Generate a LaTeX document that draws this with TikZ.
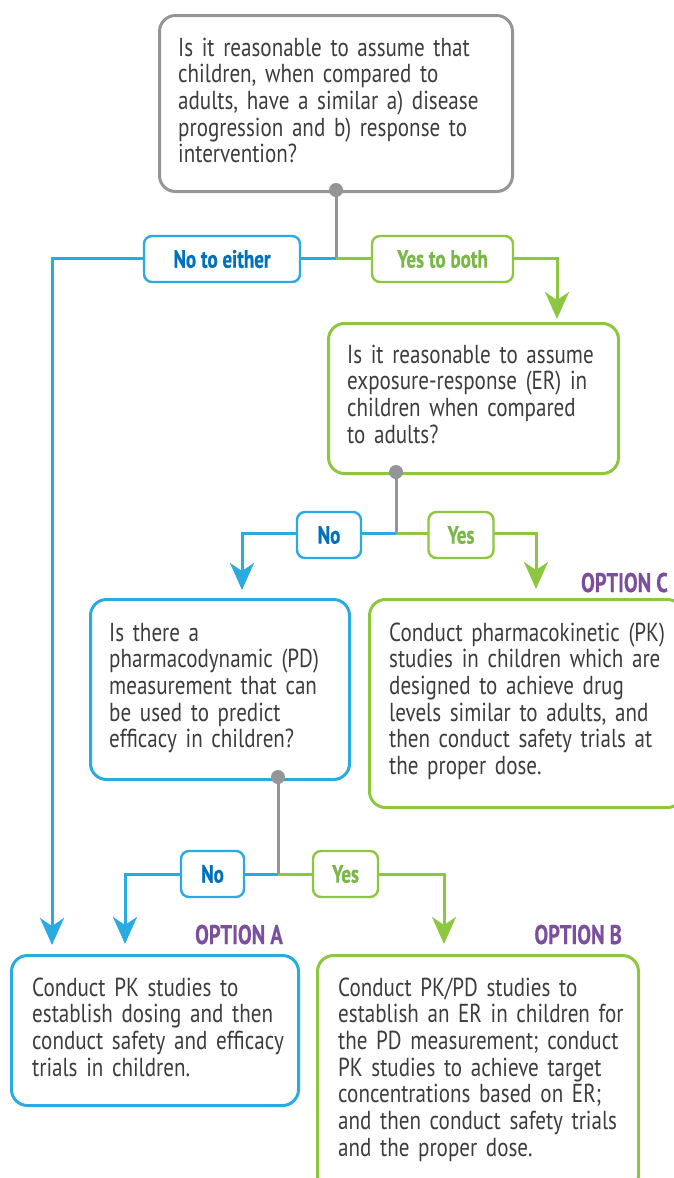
\documentclass[tikz,border=0pt]{standalone}
\usepackage{fontspec}
\setmainfont{PT Sans}[FakeStretch=0.81, BoldFeatures={FakeStretch=0.76, FakeBold=0.6}]
\usetikzlibrary{arrows.meta}
\definecolor{gr}{HTML}{939598}
\definecolor{bl}{HTML}{29ABE2}
\definecolor{bltxt}{HTML}{0072BC}
\definecolor{gn}{HTML}{8DC63F}
\definecolor{gntxt}{HTML}{7AB648}
\definecolor{pu}{HTML}{7B4F9E}
\definecolor{tx}{HTML}{3C3C3D}
\begin{document}
\begin{tikzpicture}[x=1pt,y=-1pt,
  bigbox/.style={draw=#1, line width=3pt, rounded corners=16pt, anchor=north west, inner sep=0pt},
  txt/.style={anchor=base west, inner sep=0pt, text width=320pt, align=left, text=tx,
    font=\fontsize{26}{26.7}\selectfont},
  lbl/.style={draw=#1, fill=white, line width=2.4pt, rounded corners=8pt, minimum height=46pt,
    inner sep=0pt, font=\fontsize{25}{26}\selectfont\bfseries},
  opt/.style={anchor=base east, inner sep=0pt, text=pu, font=\fontsize{27}{28}\selectfont\bfseries},
  dot/.style={circle, fill=gr, minimum size=14pt, inner sep=0pt},
  gline/.style={draw=gr, line width=3pt},
  bline/.style={draw=bl, line width=3pt},
  nline/.style={draw=gn, line width=3pt},
  barrow/.style={bline, -{Stealth[length=27pt,width=24pt,inset=8pt]}},
  narrow/.style={nline, -{Stealth[length=27pt,width=24pt,inset=8pt]}},
]
\useasboundingbox (0,0) rectangle (673,1178);

% boxes
\node[bigbox=gr, minimum width=353pt, minimum height=176pt] (q1) at (158,14) {};
\node[bigbox=gn, minimum width=290pt, minimum height=150pt] (q2) at (327,322) {};
\node[bigbox=bl, minimum width=259pt, minimum height=180pt] (q3) at (89,598) {};
\node[bigbox=gn, minimum width=314pt, minimum height=208pt] (oc) at (368,598) {};
\node[bigbox=bl, minimum width=287pt, minimum height=150pt] (oa) at (10,954) {};
\node[bigbox=gn, minimum width=321pt, minimum height=236pt] (ob) at (316,954) {};

% texts
\node[txt] (q1t) at (178,56) {Is it reasonable to assume that\\children, when compared to\\adults, have a similar a) disease\\progression and b) response to\\intervention?};
\node[txt] (q2t) at (347,363) {Is it reasonable to assume\\exposure-response (ER) in\\children when compared\\to adults?};
\node[txt] (q3t) at (109,641) {Is there a\\pharmacodynamic (PD)\\measurement that can\\be used to predict\\efficacy in children?};
\node[txt] (oct) at (389,641) {Conduct pharmacokinetic (PK)\\studies in children which are\\designed to achieve drug\\levels similar to adults, and\\then conduct safety trials at\\the proper dose.};
\node[txt] (oat) at (32,996) {Conduct PK studies to\\establish dosing and then\\conduct safety and efficacy\\trials in children.};
\node[txt] (obt) at (338,996) {Conduct PK/PD studies to\\establish an ER in children for\\the PD measurement; conduct\\PK studies to achieve target\\concentrations based on ER;\\and then conduct safety trials\\and the proper dose.};

% option labels
\node[opt] (optc) at (668,592) {OPTION C};
\node[opt] (opta) at (283,944) {OPTION A};
\node[opt] (optb) at (622,944) {OPTION B};

% junctions and arrow ends
\coordinate (j1) at (336,258);
\coordinate (j2) at (396,533);
\coordinate (j3) at (278,874);
\coordinate (e1) at (52,945);
\coordinate (e2) at (557,319);
\coordinate (e3) at (242,590);
\coordinate (e4) at (536,589);
\coordinate (e5) at (125,944);
\coordinate (e6) at (444,944);

% connectors
\draw[barrow] (j1) -| (e1);
\draw[narrow] (j1) -| (e2);
\draw[barrow] (j2) -| (e3);
\draw[narrow] (j2) -| (e4);
\draw[barrow] (j3) -| (e5);
\draw[narrow] (j3) -| (e6);

\node[dot] (d1) at (336,190) {};
\node[dot] (d2) at (396,472) {};
\node[dot] (d3) at (278,777) {};
\draw[gline] (d1.center) -- (j1);
\draw[gline] (d2.center) -- (j2);
\draw[gline] (d3.center) -- (j3);

% branch labels
\node[lbl=bl, text=bltxt, minimum width=156pt] (l1) at (222,259) {No to either};
\node[lbl=gn, text=gntxt, minimum width=141pt] (l2) at (442.5,259) {Yes to both};
\node[lbl=bl, text=bltxt, minimum width=64pt] (l3) at (329,535) {No};
\node[lbl=gn, text=gntxt, minimum width=65pt] (l4) at (461,535) {Yes};
\node[lbl=bl, text=bltxt, minimum width=63pt] (l5) at (212.5,874) {No};
\node[lbl=gn, text=gntxt, minimum width=65pt] (l6) at (345.5,874) {Yes};
\end{tikzpicture}
\end{document}
